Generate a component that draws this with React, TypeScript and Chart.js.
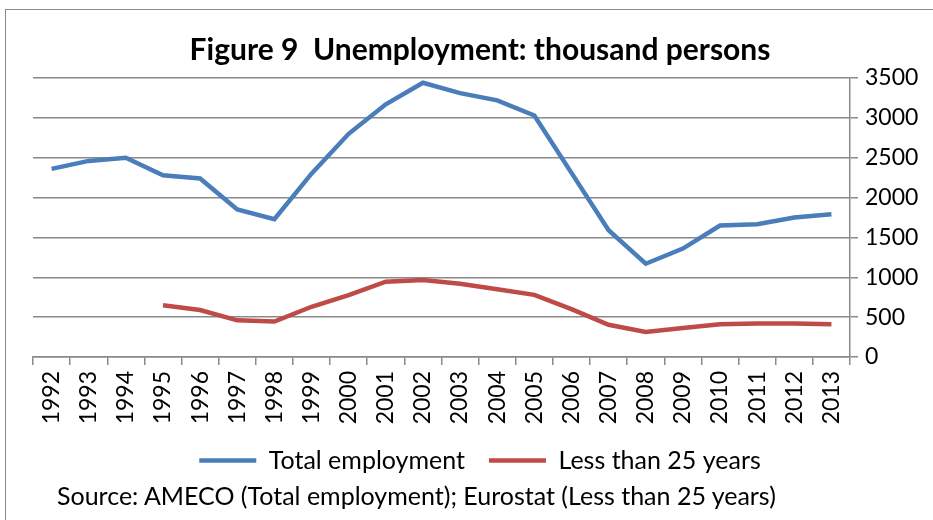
import React, { useEffect, useRef } from "react";
import { Chart, registerables } from "chart.js";

Chart.register(...registerables);

const years = [
  "1992", "1993", "1994", "1995", "1996", "1997", "1998", "1999", "2000", "2001", "2002",
  "2003", "2004", "2005", "2006", "2007", "2008", "2009", "2010", "2011", "2012", "2013",
];
const totalEmployment = [
  2360, 2460, 2500, 2280, 2240, 1850, 1730, 2300, 2800, 3170, 3440,
  3310, 3220, 3030, 2310, 1590, 1170, 1360, 1650, 1665, 1750, 1790,
];
const lessThan25 = [
  null, null, null, 650, 590, 460, 445, 630, 775, 945, 965,
  920, 850, 780, 600, 405, 315, 365, 410, 420, 420, 410,
];
const yTicks = [0, 500, 1000, 1500, 2000, 2500, 3000, 3500];

const titleText = "Figure 9  Unemployment: thousand persons";
const sourceText = "Source: AMECO (Total employment); Eurostat (Less than 25 years)";

const W = 933;
const H = 520;
const FONT = "Lato, 'Open Sans', sans-serif";

export default function App() {
  const ref = useRef<HTMLCanvasElement | null>(null);

  useEffect(() => {
    if (!ref.current) return;
    const grid = "#8a8a8a";
    const padR = 6;
    const chart = new Chart(ref.current, {
      type: "line",
      data: {
        labels: years,
        datasets: [
          {
            label: "Total employment",
            data: totalEmployment,
            borderColor: "#4A7EBB",
            backgroundColor: "#4A7EBB",
            borderWidth: 4.5,
            pointRadius: 0,
            tension: 0,
          },
          {
            label: "Less than 25 years",
            data: lessThan25,
            borderColor: "#BE4B48",
            backgroundColor: "#BE4B48",
            borderWidth: 4.5,
            pointRadius: 0,
            tension: 0,
          },
        ],
      },
      options: {
        animation: false,
        responsive: false,
        maintainAspectRatio: false,
        layout: { padding: { left: 33, right: padR, top: 0, bottom: 37 } },
        font: { family: FONT },
        plugins: {
          title: {
            display: true,
            text: titleText,
            color: "#000",
            font: { family: FONT, size: 30, weight: "bold", lineHeight: 1.0 },
            padding: { top: 35, bottom: 13 },
          },
          legend: {
            display: true,
            position: "bottom",
            labels: {
              color: "#000",
              font: { family: FONT, size: 25 },
              usePointStyle: true,
              pointStyle: "line",
              pointStyleWidth: 57,
              boxHeight: 25,
              padding: 24,
            },
          },
          tooltip: { enabled: false },
        },
        scales: {
          x: {
            type: "category",
            offset: true,
            grid: {
              display: true,
              offset: true,
              drawOnChartArea: false,
              drawTicks: true,
              tickLength: 8,
              color: grid,
              lineWidth: 1.5,
            },
            border: { display: true, color: grid, width: 1.5 },
            ticks: {
              color: "#000",
              font: { family: FONT, size: 23 },
              minRotation: 90,
              maxRotation: 90,
              autoSkip: false,
              padding: 6,
            },
            afterFit: (scale: any) => {
              scale.height = 67;
            },
          },
          y: {
            type: "linear",
            position: "right",
            min: 0,
            max: 3500,
            afterBuildTicks: (scale: any) => {
              scale.ticks = yTicks.map((v) => ({ value: v }));
            },
            grid: {
              color: grid,
              lineWidth: 1.5,
              tickLength: 8,
            },
            border: { display: true, color: grid, width: 1.5 },
            ticks: {
              color: "#000",
              font: { family: FONT, size: 23 },
              padding: 7,
              callback: (v: any) => String(v),
            },
            afterFit: (scale: any) => {
              scale.width = W - 850 - padR;
            },
          },
        },
      },
    });
    return () => chart.destroy();
  }, []);

  return (
    <div
      style={{
        position: "absolute",
        left: 0,
        top: 0,
        width: W,
        height: H,
        overflow: "hidden",
        background: "#fff",
      }}
    >
      <div
        style={{
          position: "absolute",
          left: 5,
          top: 9,
          width: 1000,
          height: 700,
          border: "1.5px solid #8a8a8a",
          boxSizing: "border-box",
        }}
      />
      <canvas
        ref={ref}
        width={W}
        height={H}
        style={{ position: "absolute", left: 0, top: 0, width: W, height: H }}
      />
      <div
        style={{
          position: "absolute",
          left: 57,
          top: 480,
          fontFamily: FONT,
          fontSize: 25,
          lineHeight: "30px",
          color: "#000",
          whiteSpace: "nowrap",
        }}
      >
        {sourceText}
      </div>
    </div>
  );
}
